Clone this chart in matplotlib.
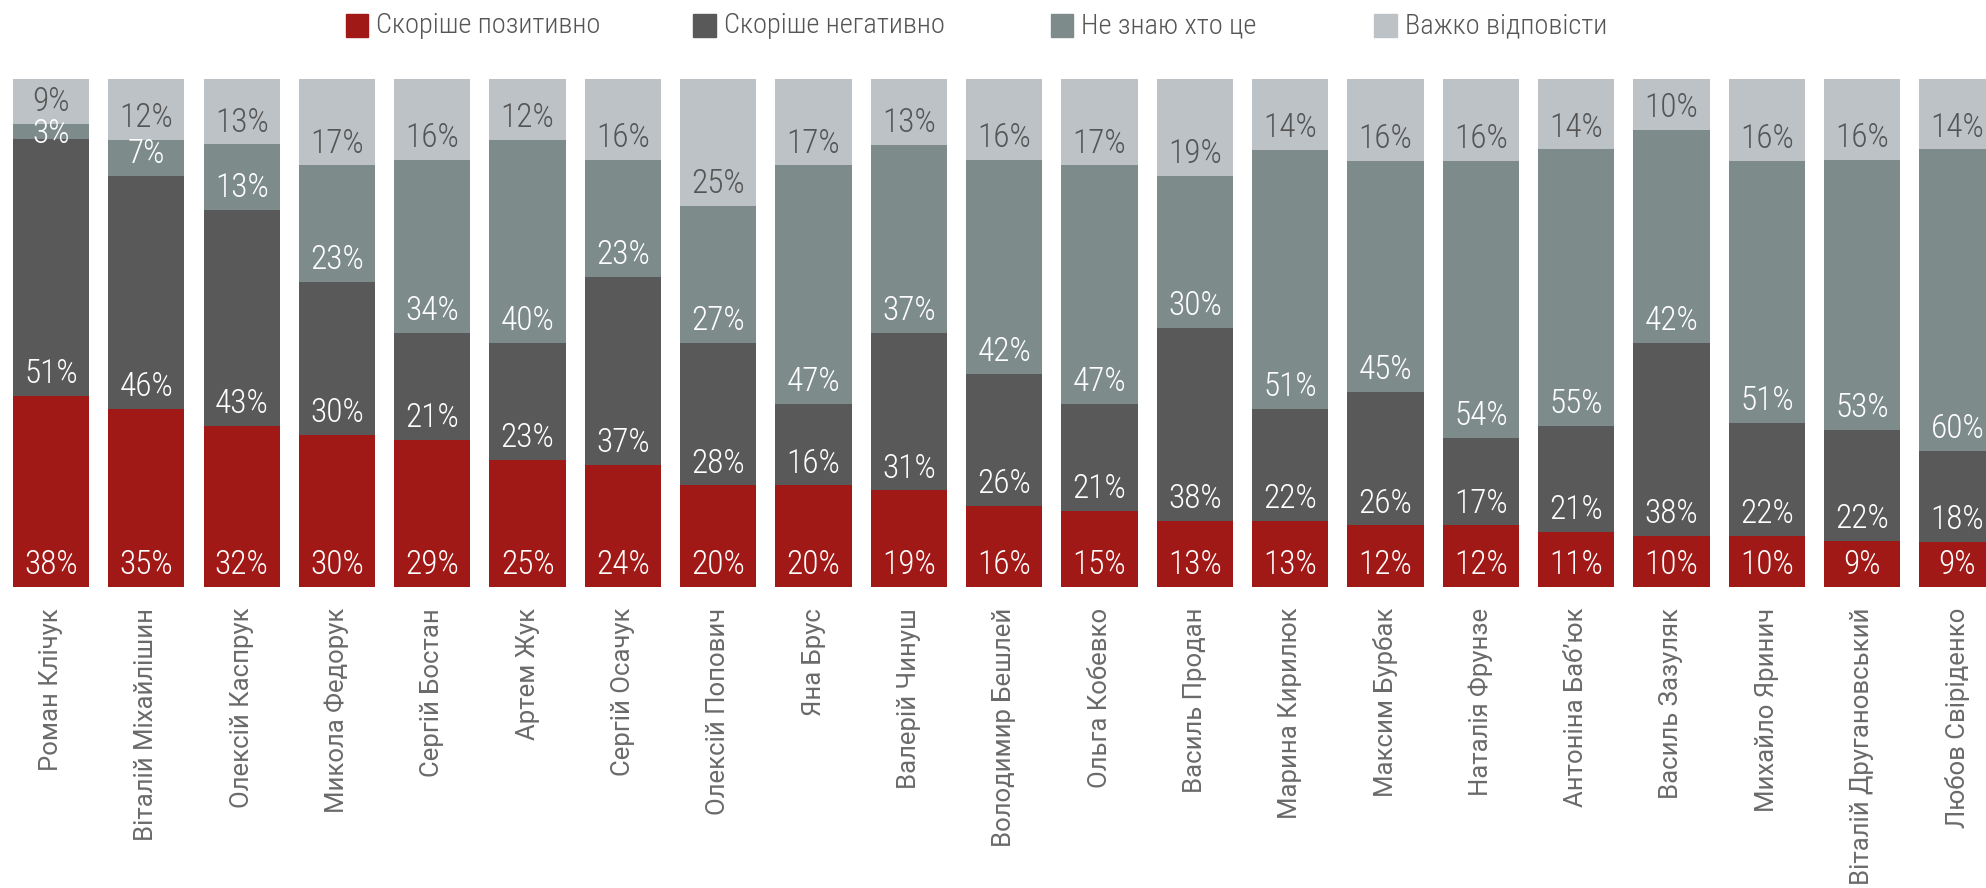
import matplotlib
matplotlib.use('Agg')
import matplotlib.pyplot as plt
from matplotlib import font_manager as fm

# Кандидати (опитування)
names = ['Роман Клічук', 'Віталій Міхайлішин', 'Олексій Каспрук', 'Микола Федорук',
         'Сергій Бостан', 'Артем Жук', 'Сергій Осачук', 'Олексій Попович', 'Яна Брус',
         'Валерій Чинуш', 'Володимир Бешлей', 'Ольга Кобевко', 'Василь Продан',
         'Марина Кирилюк', 'Максим Бурбак', 'Наталія Фрунзе', 'Антоніна Баб\u2019юк',
         'Василь Зазуляк', 'Михайло Яринич', 'Віталій Другановський', 'Любов Свіріденко']

positive = [38, 35, 32, 30, 29, 25, 24, 20, 20, 19, 16, 15, 13, 13, 12, 12, 11, 10, 10, 9, 9]
negative = [51, 46, 43, 30, 21, 23, 37, 28, 16, 31, 26, 21, 38, 22, 26, 17, 21, 38, 22, 22, 18]
unknown = [3, 7, 13, 23, 34, 40, 23, 27, 47, 37, 42, 47, 30, 51, 45, 54, 55, 42, 51, 53, 60]
hard = [9, 12, 13, 17, 16, 12, 16, 25, 17, 13, 16, 17, 19, 14, 16, 16, 14, 10, 16, 16, 14]

series_names = ['Скоріше позитивно', 'Скоріше негативно', 'Не знаю хто це', 'Важко відповісти']
colors = ['#a11916', '#595959', '#7e8b8b', '#bdc2c6']
label_colors = ['white', 'white', 'white', '#555555']

# Вузький шрифт для цифр і легенди
cond_fp = None
for w in (300, 400):
    for f in fm.fontManager.ttflist:
        if f.name == 'Roboto Condensed' and f.style == 'normal' and f.weight == w:
            cond_fp = f.fname
            break
    if cond_fp:
        break


def fp(size):
    if cond_fp:
        return fm.FontProperties(fname=cond_fp, size=size)
    return fm.FontProperties(family='Roboto', size=size)


fig = plt.figure(figsize=(19.86, 8.88), dpi=100)
ax = fig.add_axes([0, 0.339, 1, 0.572])

x = list(range(len(names)))
data = [positive, negative, unknown, hard]
totals = [sum(col) for col in zip(*data)]

# Стовпці нормуємо до 100%
bottoms = [0] * len(names)
for k, vals in enumerate(data):
    h = [v * 100 / t for v, t in zip(vals, totals)]
    ax.bar(x, h, bottom=bottoms, width=0.8, color=colors[k], linewidth=0)
    bottoms = [b + v for b, v in zip(bottoms, h)]

# Підписи значень (біля низу сегмента)
off = 4.3
gap = 6.3
for i in x:
    b = 0
    ys = []
    for k, vals in enumerate(data):
        ys.append(b + off)
        b += vals[i] * 100 / totals[i]
    for k in range(len(ys) - 2, -1, -1):
        if ys[k + 1] - ys[k] < gap:
            ys[k] = ys[k + 1] - gap
    for k, vals in enumerate(data):
        ax.text(i, ys[k], f'{vals[i]}%', ha='center', va='center',
                color=label_colors[k], fontproperties=fp(24))

ax.set_xlim(-0.535, 20.30)
ax.set_ylim(0, 100)
ax.axis('off')

for i, n in enumerate(names):
    ax.annotate(n, (i, 0), xytext=(0, -15), textcoords='offset points',
                rotation=90, ha='center', va='top', color='#6a6a6a',
                family='Roboto', fontsize=18.5)

# Легенда
leg_x = [0.174, 0.349, 0.529, 0.692]
for k in range(4):
    fig.patches.append(plt.Rectangle((leg_x[k], 0.958), 0.0115, 0.026,
                                     transform=fig.transFigure, color=colors[k]))
    fig.text(leg_x[k] + 0.0155, 0.971, series_names[k], color='#555555',
             va='center', ha='left', fontproperties=fp(20.5))

fig.savefig('out.png', dpi=100, facecolor='white')
